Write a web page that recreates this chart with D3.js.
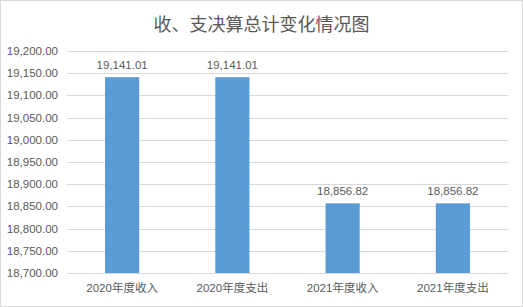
<!DOCTYPE html>
<html>
  <head>
    <style>
      body { margin: 0; background: #fff; }
      text { font-family: "Liberation Sans", "Noto Sans CJK SC", sans-serif; fill: #595959; }
      .title { font-family: "Noto Sans CJK SC", sans-serif; font-size: 18px; text-anchor: middle; }
      .tick-label { font-size: 11.5px; }
      .bar { fill: #5b9bd5; }
      .grid line { stroke: #d9d9d9; }
    </style>
  </head>
  <body>
    <div id="chart"></div>
    <script src="https://d3js.org/d3.v7.min.js"></script>
    <script>
      const categories = ["2020年度收入", "2020年度支出", "2021年度收入", "2021年度支出"];
      const values = [19141.01, 19141.01, 18856.82, 18856.82];
      const yTicks = [18700, 18750, 18800, 18850, 18900, 18950, 19000, 19050, 19100, 19150, 19200];

      const W = 523, H = 307;
      const plot = { left: 67, right: 508, top: 51, bottom: 273 };

      const svg = d3.select("#chart").append("svg")
        .attr("width", W).attr("height", H);

      svg.append("rect")
        .attr("x", 0.5).attr("y", 0.5)
        .attr("width", W - 1).attr("height", H - 1)
        .attr("fill", "#fff").attr("stroke", "#d9d9d9");

      const x = d3.scaleBand().domain(categories).range([plot.left, plot.right]).paddingInner(0.69).paddingOuter(0.345);
      const y = d3.scaleLinear().domain([18700, 19200]).range([plot.bottom, plot.top]);
      const fmt = d3.format(",.2f");

      // gridlines
      svg.append("g").attr("class", "grid")
        .selectAll("line").data(yTicks).enter().append("line")
        .attr("x1", plot.left).attr("x2", plot.right)
        .attr("y1", d => Math.round(y(d)) + 0.5).attr("y2", d => Math.round(y(d)) + 0.5);

      // y tick labels
      svg.append("g").selectAll("text").data(yTicks).enter().append("text")
        .attr("class", "tick-label")
        .attr("x", 58).attr("y", d => y(d))
        .attr("dy", "0.35em")
        .attr("text-anchor", "end")
        .text(d => fmt(d));

      // bars
      svg.selectAll(".bar").data(values).enter().append("rect")
        .attr("class", "bar")
        .attr("x", (d, i) => x(categories[i]))
        .attr("width", x.bandwidth())
        .attr("y", d => y(d))
        .attr("height", d => y(18700) - y(d));

      // data labels
      svg.append("g").selectAll("text").data(values).enter().append("text")
        .attr("class", "tick-label")
        .attr("x", (d, i) => x(categories[i]) + x.bandwidth() / 2)
        .attr("y", d => y(d) - 8)
        .attr("text-anchor", "middle")
        .text(d => fmt(d));

      // x labels
      svg.append("g").selectAll("text").data(categories).enter().append("text")
        .attr("class", "tick-label")
        .attr("x", d => x(d) + x.bandwidth() / 2)
        .attr("y", 292)
        .attr("text-anchor", "middle")
        .text(d => d);

      svg.append("text").attr("class", "title")
        .attr("x", W / 2).attr("y", 31)
        .text("收、支决算总计变化情况图");
    </script>
  </body>
</html>
